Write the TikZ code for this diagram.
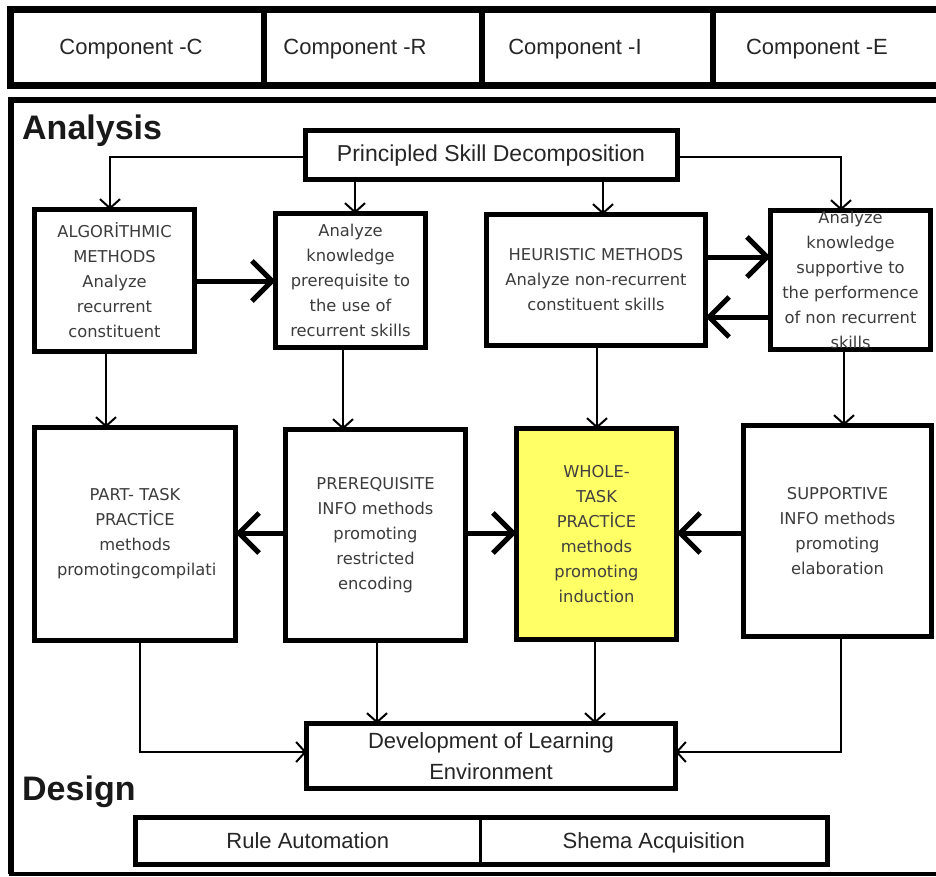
\documentclass[tikz,border=0pt]{standalone}
\usepackage{fontspec}
\setmainfont{Liberation Sans}
\newfontfamily\boxfont{DejaVu Sans}
\usetikzlibrary{arrows.meta}
\definecolor{wyellow}{RGB}{255,255,102}
\definecolor{txtgray}{RGB}{60,60,60}
\begin{document}
\begin{tikzpicture}[x=1pt,y=-1pt,
  box/.style={draw, line width=5pt, inner sep=0pt, outer sep=0pt},
  btext/.style={font=\boxfont\fontsize{16.3}{25}\selectfont, text=txtgray, align=center, inner sep=0pt},
  bigtext/.style={font=\fontsize{22}{31}\selectfont, text=black!85, align=center, inner sep=0pt},
  comptext/.style={font=\fontsize{22}{26}\selectfont, text=black!85, anchor=base, inner sep=0pt},
  thinarr/.style={line width=2pt, -{Straight Barb[length=9pt,width=20pt,line width=2pt]}},
  thickarr/.style={line width=5pt, -{Straight Barb[length=20pt,width=40pt,line width=5pt]}},
  titletext/.style={font=\bfseries\fontsize{34}{40}\selectfont, text=black!90, inner sep=0pt, anchor=base west},
]
\useasboundingbox (0,0) rectangle (936,877);
\fill[white] (0,0) rectangle (936,877);

% top bar
\draw[line width=7pt] (960,9.5) -- (10.5,9.5) -- (10.5,86) -- (960,86);
\draw[line width=6pt] (264,9.5) -- (264,86);
\draw[line width=6pt] (482,9.5) -- (482,86);
\draw[line width=6pt] (713,9.5) -- (713,86);
\node[comptext] (compC) at (131,55) {Component -C};
\node[comptext] (compR) at (355,55) {Component -R};
\node[comptext] (compI) at (575,55) {Component -I};
\node[comptext] (compE) at (817,55) {Component -E};

% main frame
\draw[line width=6pt] (960,100) -- (11,100) -- (11,874);
\draw[line width=4pt] (9,874) -- (960,874);

\node[titletext] (analysis) at (22,140) {Analysis};
\node[titletext] (design) at (22,800) {Design};

% boxes
\node[box, minimum width=372pt, minimum height=49pt] (PSD) at (491,155.5) {};
\node[box, minimum width=160pt, minimum height=142pt] (ALG) at (114.5,280.5) {};
\node[box, minimum width=150pt, minimum height=134pt] (AK1) at (350.5,280.5) {};
\node[box, minimum width=219pt, minimum height=131pt] (HEU) at (596,280) {};
\node[box, minimum width=160pt, minimum height=139pt] (AK2) at (850.5,280) {};
\node[box, minimum width=201pt, minimum height=213pt] (PART) at (135,534) {};
\node[box, minimum width=180pt, minimum height=211pt] (PREREQ) at (375.5,535) {};
\node[box, fill=wyellow, minimum width=160pt, minimum height=211pt] (WHOLE) at (596.5,534) {};
\node[box, minimum width=188pt, minimum height=211pt] (SUPP) at (837.5,531) {};
\node[box, minimum width=369pt, minimum height=65pt] (DEV) at (491,756) {};
\node[box, minimum width=692pt, minimum height=47pt] (RS) at (481.5,841) {};
\draw[line width=3pt] (RS.north -| 480,0) -- (RS.south -| 480,0);

% texts
\node[bigtext, font=\fontsize{23}{28}\selectfont] (PSDt) at (PSD.center) {Principled Skill Decomposition};
\node[btext] (ALGt) at (ALG.center) {ALGORİTHMIC\\METHODS\\Analyze\\recurrent\\constituent};
\node[btext] (AK1t) at (AK1.center) {Analyze\\knowledge\\prerequisite to\\the use of\\recurrent skills};
\node[btext] (HEUt) at (HEU.center) {HEURISTIC METHODS\\Analyze non-recurrent\\constituent skills};
\node[btext] (AK2t) at (AK2.center) {Analyze\\knowledge\\supportive to\\the performence\\of non recurrent\\skills};
\begin{scope}
\clip (37,430) rectangle (214.5,638);
\node[btext, text width=156pt] (PARTt) at (PART.center) {PART- TASK\\PRACTİCE\\methods\\\mbox{promotingcompilation}};
\end{scope}
\node[btext] (PREREQt) at (PREREQ.center) {PREREQUISITE\\INFO methods\\promoting\\restricted\\encoding};
\node[btext, text=black!75] (WHOLEt) at (WHOLE.center) {WHOLE-\\TASK\\PRACTİCE\\methods\\promoting\\induction};
\node[btext] (SUPPt) at (SUPP.center) {SUPPORTIVE\\INFO methods\\promoting\\elaboration};
\node[bigtext] (DEVt) at (DEV.center) {Development of Learning\\Environment};
\node[bigtext, anchor=base] (RA) at (307.75,848) {Rule Automation};
\node[bigtext, anchor=base] (SA) at (653.75,848) {Shema Acquisition};

% thin arrows from PSD
\draw[thinarr] (PSD.west |- 0,157) -| (ALG.north -| 110,0);
\draw[thinarr] (PSD.south -| 355,0) -- (AK1.north -| 355,0);
\draw[thinarr] (PSD.south -| 603,0) -- (HEU.north -| 603,0);
\draw[thinarr] (PSD.east |- 0,157) -| (AK2.north -| 841,0);

% thick arrows row 1
\draw[thickarr] (ALG.east |- 0,281) -- (AK1.west |- 0,281);
\draw[thickarr] (HEU.east |- 0,257) -- (AK2.west |- 0,257);
\draw[thickarr] (AK2.west |- 0,317) -- (HEU.east |- 0,317);

% row 1 -> row 2
\draw[thinarr] (ALG.south -| 106,0) -- (PART.north -| 106,0);
\draw[thinarr] (AK1.south -| 343,0) -- (PREREQ.north -| 343,0);
\draw[thinarr] (HEU.south -| 597,0) -- (WHOLE.north -| 597,0);
\draw[thinarr] (AK2.south -| 844,0) -- (SUPP.north -| 844,0);

% thick arrows row 2
\draw[thickarr] (PREREQ.west |- 0,533) -- (PART.east |- 0,533);
\draw[thickarr] (PREREQ.east |- 0,533) -- (WHOLE.west |- 0,533);
\draw[thickarr] (SUPP.west |- 0,533) -- (WHOLE.east |- 0,533);

% row 2 -> DEV
\draw[thinarr] (PART.south -| 140,0) |- (DEV.west |- 0,752);
\draw[thinarr] (PREREQ.south -| 377,0) -- (DEV.north -| 377,0);
\draw[thinarr] (WHOLE.south -| 595,0) -- (DEV.north -| 595,0);
\draw[thinarr] (SUPP.south -| 841,0) |- (DEV.east |- 0,752);
\end{tikzpicture}
\end{document}
